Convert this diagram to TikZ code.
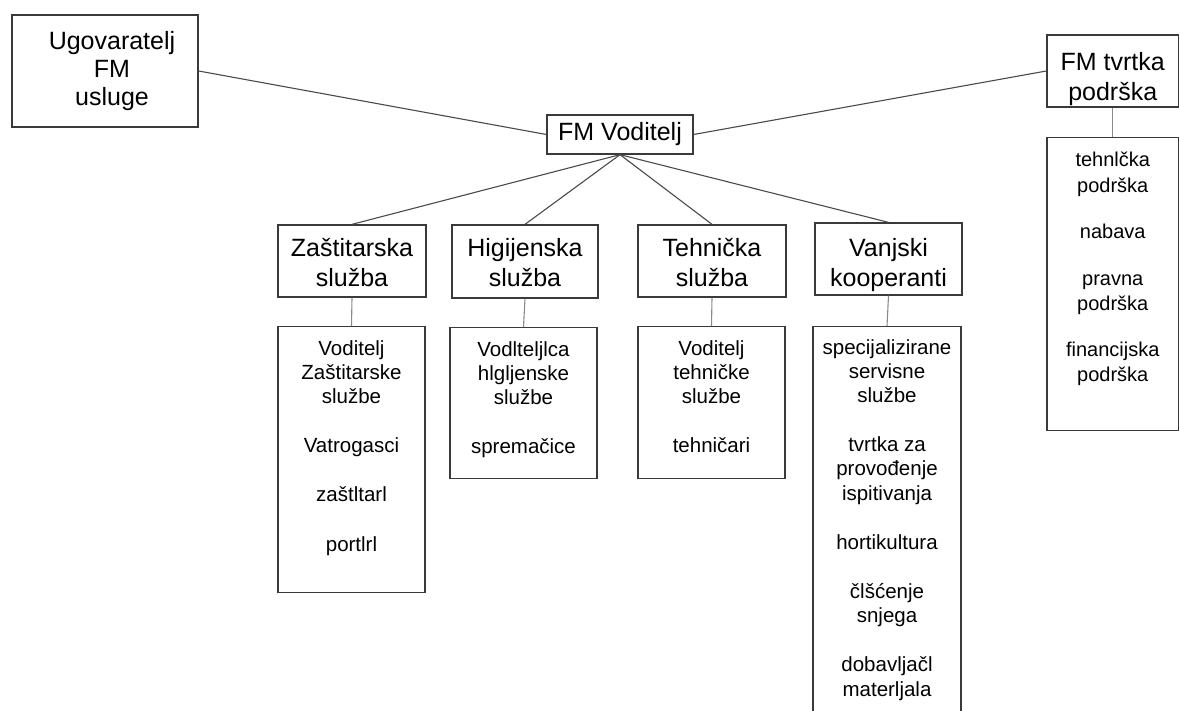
\documentclass[tikz,border=0pt]{standalone}
\usepackage{fontspec}
\setmainfont{Liberation Sans}
\definecolor{bordercol}{HTML}{3A3A3A}
\definecolor{linecol}{HTML}{4A4A4A}
\definecolor{stemcol}{HTML}{8A8A8A}
\begin{document}
\begin{tikzpicture}[x=1pt,y=-1pt,
  box/.style={draw=bordercol, line width=1.3pt, inner sep=0pt, align=center},
  big/.style={font=\fontsize{25}{30}\selectfont},
  btext/.style={inner sep=0pt, align=center, anchor=north, font=\fontsize{25}{30}\selectfont},
  small/.style={inner sep=0pt, align=center, anchor=north, font=\fontsize{20.5}{24.2}\selectfont},
  conn/.style={draw=linecol, line width=1.1pt},
  stem/.style={draw=stemcol, line width=1.1pt}]
\useasboundingbox (0,0) rectangle (1180,711);
\clip (0,0) rectangle (1180,711);

% top level
\node[box, minimum width=186pt, minimum height=112pt] (ugo) at (105,71) {};
\node[btext, font=\fontsize{25}{28}\selectfont] at ([xshift=7pt,yshift=-17pt]ugo.north) {Ugovaratelj\\FM\\usluge};
\node[box, big, minimum width=146pt, minimum height=39pt] (fmv) at (620,134.5) {FM Voditelj};
\node[box, minimum width=131.5pt, minimum height=72pt] (fmt) at (1112.75,71) {};
\node[btext, font=\fontsize{25}{30}\selectfont] at ([yshift=-18pt]fmt.north) {FM tvrtka\\podrška};
\node[box, minimum width=131.5pt, minimum height=293pt, anchor=north] (fmtl) at (1112.75,137) {};
\node[small, font=\fontsize{20}{25.5}\selectfont] at ([yshift=-15pt]fmtl.north) {tehnlčka\\podrška\\[21pt]nabava\\[21pt]pravna\\podrška\\[20pt]financijska\\podrška};

% services
\node[box, minimum width=148pt, minimum height=72pt] (zas) at (352,261) {};
\node[btext] at ([yshift=-14pt]zas.north) {Zaštitarska\\služba};
\node[box, minimum width=146pt, minimum height=73pt] (hig) at (525,261.5) {};
\node[btext] at ([yshift=-14pt]hig.north) {Higijenska\\služba};
\node[box, minimum width=148pt, minimum height=72pt] (teh) at (712,261) {};
\node[btext] at ([yshift=-14pt]teh.north) {Tehnička\\služba};
\node[box, minimum width=147pt, minimum height=72pt] (van) at (888.5,259) {};
\node[btext] at ([yshift=-15.5pt]van.north) {Vanjski\\kooperanti};

% lists
\node[box, minimum width=147pt, minimum height=266pt, anchor=north] (zasl) at (351.5,326) {};
\node[small] at ([yshift=-14pt]zasl.north) {Voditelj\\Zaštitarske\\službe\\[25pt]Vatrogasci\\[25pt]zaštltarl\\[25pt]portlrl};

\node[box, minimum width=147pt, minimum height=151pt, anchor=north] (higl) at (523.5,327) {};
\node[small] at ([yshift=-14pt]higl.north) {Vodlteljlca\\hlgljenske\\službe\\[25pt]spremačice};

\node[box, minimum width=147pt, minimum height=152pt, anchor=north] (tehl) at (711.5,326) {};
\node[small] at ([yshift=-14pt]tehl.north) {Voditelj\\tehničke\\službe\\[25pt]tehničari};

\node[box, minimum width=148pt, minimum height=420pt, anchor=north] (vanl) at (887,326) {};
\node[small] at ([yshift=-13pt]vanl.north) {specijalizirane\\servisne\\službe\\[25pt]tvrtka za\\provođenje\\ispitivanja\\[25pt]hortikultura\\[25pt]člšćenje\\snjega\\[25pt]dobavljačl\\materljala};

% connectors
\draw[conn] (ugo.east) -- (fmv.west);
\draw[conn] (fmv.east) -- (fmt.west);
\draw[conn] (fmv.south) -- (zas.north);
\draw[conn] (fmv.south) -- (hig.north);
\draw[conn] (fmv.south) -- (teh.north);
\draw[conn] (fmv.south) -- (van.north);
\draw[stem] (fmt.south) -- (fmtl.north);
\draw[stem] (zas.south) -- (zasl.north);
\draw[stem] (hig.south) -- (higl.north);
\draw[stem] (teh.south) -- (tehl.north);
\draw[stem] (van.south) -- (vanl.north);
\end{tikzpicture}
\end{document}
